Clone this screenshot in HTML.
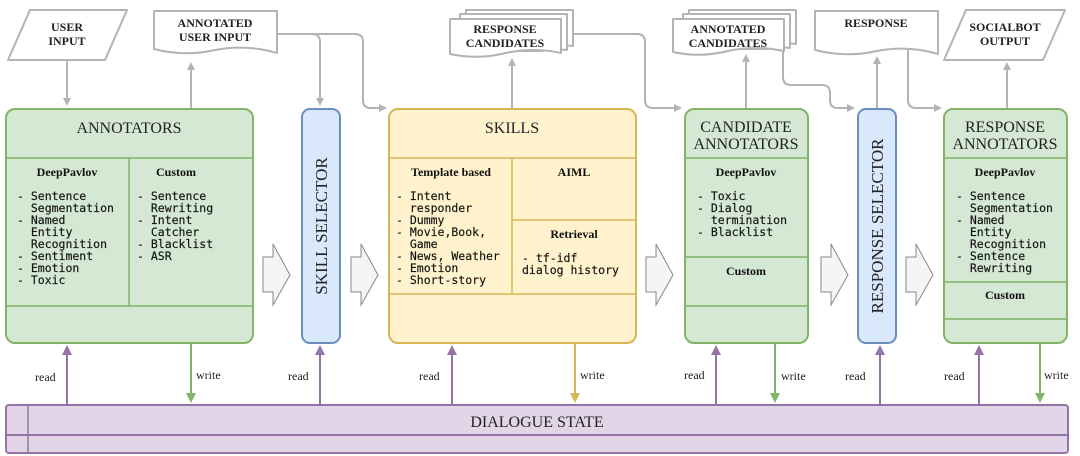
<!DOCTYPE html>
<html><head><meta charset="utf-8"><style>
html,body{margin:0;padding:0;background:#fff;width:1080px;height:456px;overflow:hidden}
svg{display:block}
.t{font-family:"Liberation Serif",serif;fill:#222}
.m{font-family:"DejaVu Sans Mono","Liberation Mono",monospace;font-size:11.5px;fill:#111;stroke:#111;stroke-width:0.15}
.h{font-family:"Liberation Serif",serif;font-weight:bold;font-size:12px;fill:#111}
.g{fill:none;stroke:#b3b3b3;stroke-width:2}
</style></head><body>
<svg width="1080" height="456" viewBox="0 0 1080 456" xmlns="http://www.w3.org/2000/svg">
<defs>
<marker id="ag" markerWidth="8" markerHeight="8" refX="6" refY="4" orient="auto" markerUnits="userSpaceOnUse"><path d="M0,0 L8,4 L0,8 Z" fill="#b3b3b3"/></marker>
<marker id="ap" markerWidth="10" markerHeight="10" refX="8" refY="5" orient="auto" markerUnits="userSpaceOnUse"><path d="M0,0 L10,5 L0,10 Z" fill="#9673a6"/></marker>
<marker id="agr" markerWidth="10" markerHeight="10" refX="8" refY="5" orient="auto" markerUnits="userSpaceOnUse"><path d="M0,0 L10,5 L0,10 Z" fill="#82b366"/></marker>
<marker id="ay" markerWidth="10" markerHeight="10" refX="8" refY="5" orient="auto" markerUnits="userSpaceOnUse"><path d="M0,0 L10,5 L0,10 Z" fill="#d6b656"/></marker>
</defs>

<path d="M30,10 L127,10 L105,60 L8,60 Z" fill="#fff" stroke="#b3b3b3" stroke-width="2" stroke-linejoin="round"/>
<text class="t" x="67" y="31" font-size="12" text-anchor="middle" font-weight="bold" fill="#555">USER</text>
<text class="t" x="67" y="45" font-size="12" text-anchor="middle" font-weight="bold" fill="#555">INPUT</text>

<path d="M154,11 L277,11 L277,53 Q246,44 215,50 Q184,57 154,49 Z" fill="#fff" stroke="#b3b3b3" stroke-width="2" stroke-linejoin="round"/>
<text class="t" x="215" y="27" font-size="12" text-anchor="middle" font-weight="bold" fill="#555">ANNOTATED</text>
<text class="t" x="215" y="41" font-size="12" text-anchor="middle" font-weight="bold" fill="#555">USER INPUT</text>

<g fill="#fff" stroke="#b3b3b3" stroke-width="2" stroke-linejoin="round">
<path d="M466,10 L573,10 L573,46 Q560,44 548,47 L466,47 Z"/>
<path d="M460,14 L567,14 L567,50 Q554,48 542,51 L460,51 Z"/>
<path d="M450,19 L561,19 L561,53 Q533,47 506,53 Q478,60 450,54 Z"/>
</g>
<text class="t" x="505" y="33" font-size="12" text-anchor="middle" font-weight="bold" fill="#555">RESPONSE</text>
<text class="t" x="505" y="47" font-size="12" text-anchor="middle" font-weight="bold" fill="#555">CANDIDATES</text>

<g fill="#fff" stroke="#b3b3b3" stroke-width="2" stroke-linejoin="round">
<path d="M689,10 L796,10 L796,44 Q784,42 772,45 L689,45 Z"/>
<path d="M683,14 L790,14 L790,48 Q778,46 766,49 L683,49 Z"/>
<path d="M673,19 L784,19 L784,51 Q756,45 728,51 Q700,58 673,52 Z"/>
</g>
<text class="t" x="728" y="33" font-size="12" text-anchor="middle" font-weight="bold" fill="#555">ANNOTATED</text>
<text class="t" x="728" y="47" font-size="12" text-anchor="middle" font-weight="bold" fill="#555">CANDIDATES</text>

<path d="M815,11 L938,11 L938,54 Q908,45 877,51 Q846,58 815,50 Z" fill="#fff" stroke="#b3b3b3" stroke-width="2" stroke-linejoin="round"/>
<text class="t" x="876" y="27" font-size="12" text-anchor="middle" font-weight="bold" fill="#555">RESPONSE</text>

<path d="M966,10 L1065,10 L1043,60 L944,60 Z" fill="#fff" stroke="#b3b3b3" stroke-width="2" stroke-linejoin="round"/>
<text class="t" x="1005" y="31" font-size="12" text-anchor="middle" font-weight="bold" fill="#555">SOCIALBOT</text>
<text class="t" x="1005" y="45" font-size="12" text-anchor="middle" font-weight="bold" fill="#555">OUTPUT</text>

<path class="g" d="M67,60 L67,104" marker-end="url(#ag)"/>
<path class="g" d="M191,108 L191,64" marker-end="url(#ag)"/>
<path class="g" d="M277,34 L312,34 Q320,34 320,42 L320,104" marker-end="url(#ag)"/>
<path class="g" d="M312,34 L355,34 Q363,34 363,42 L363,100 Q363,108 371,108 L385,108" marker-end="url(#ag)"/>
<path class="g" d="M512,108 L512,60" marker-end="url(#ag)"/>
<path class="g" d="M574,34 L637,34 Q645,34 645,42 L645,100 Q645,108 653,108 L680,108" marker-end="url(#ag)"/>
<path class="g" d="M746,108 L746,56" marker-end="url(#ag)"/>
<path class="g" d="M783,51 L783,77 Q783,85 791,85 L822,85 Q830,85 830,93 L830,100 Q830,108 838,108 L853,108" marker-end="url(#ag)"/>
<path class="g" d="M877,108 L877,58" marker-end="url(#ag)"/>
<path class="g" d="M908,50 L908,100 Q908,108 916,108 L940,108" marker-end="url(#ag)"/>
<path class="g" d="M1007,108 L1007,64" marker-end="url(#ag)"/>

<rect x="6" y="109" width="247" height="234" rx="9" fill="#d5e8d4" stroke="#82b366" stroke-width="2"/>
<line x1="6" y1="158" x2="253" y2="158" stroke="#82b366" stroke-width="1.5"/>
<line x1="129" y1="158" x2="129" y2="306" stroke="#82b366" stroke-width="1.5"/>
<line x1="6" y1="306" x2="253" y2="306" stroke="#82b366" stroke-width="1.5"/>
<text class="t" x="129" y="133" font-size="16" text-anchor="middle">ANNOTATORS</text>
<text class="h" x="67" y="176" text-anchor="middle">DeepPavlov</text>
<text class="h" x="176" y="176" text-anchor="middle">Custom</text>
<text class="m" xml:space="preserve"><tspan x="17" y="200">- Sentence</tspan><tspan x="17" dy="12">  Segmentation</tspan><tspan x="17" dy="12">- Named</tspan><tspan x="17" dy="12">  Entity</tspan><tspan x="17" dy="12">  Recognition</tspan><tspan x="17" dy="12">- Sentiment</tspan><tspan x="17" dy="12">- Emotion</tspan><tspan x="17" dy="12">- Toxic</tspan></text>
<text class="m" xml:space="preserve"><tspan x="137" y="200">- Sentence</tspan><tspan x="137" dy="12">  Rewriting</tspan><tspan x="137" dy="12">- Intent</tspan><tspan x="137" dy="12">  Catcher</tspan><tspan x="137" dy="12">- Blacklist</tspan><tspan x="137" dy="12">- ASR</tspan></text>

<g fill="#f5f5f5" stroke="#888" stroke-width="1">
<path d="M263,257 L273,257 L273,244 L290,275 L273,305 L273,292 L263,292 Z"/>
<path d="M351,257 L361,257 L361,244 L378,275 L361,305 L361,292 L351,292 Z"/>
<path d="M646,257 L656,257 L656,244 L673,275 L656,305 L656,292 L646,292 Z"/>
<path d="M821,257 L831,257 L831,244 L848,275 L831,305 L831,292 L821,292 Z"/>
<path d="M906,257 L916,257 L916,244 L933,275 L916,305 L916,292 L906,292 Z"/>
</g>

<rect x="302" y="109" width="38" height="234" rx="8" fill="#dae8fc" stroke="#6c8ebf" stroke-width="2"/>
<text class="t" transform="translate(327,226) rotate(-90)" font-size="17" text-anchor="middle">SKILL SELECTOR</text>

<rect x="389" y="109" width="247" height="234" rx="9" fill="#fff2cc" stroke="#d6b656" stroke-width="2"/>
<line x1="389" y1="158" x2="636" y2="158" stroke="#d6b656" stroke-width="1.5"/>
<line x1="512" y1="158" x2="512" y2="294" stroke="#d6b656" stroke-width="1.5"/>
<line x1="512" y1="220" x2="636" y2="220" stroke="#d6b656" stroke-width="1.5"/>
<line x1="389" y1="294" x2="636" y2="294" stroke="#d6b656" stroke-width="1.5"/>
<text class="t" x="512" y="133" font-size="16" text-anchor="middle">SKILLS</text>
<text class="h" x="451" y="176" text-anchor="middle">Template based</text>
<text class="h" x="574" y="176" text-anchor="middle">AIML</text>
<text class="h" x="574" y="238" text-anchor="middle">Retrieval</text>
<text class="m" xml:space="preserve"><tspan x="396" y="200">- Intent</tspan><tspan x="396" dy="12">  responder</tspan><tspan x="396" dy="12">- Dummy</tspan><tspan x="396" dy="12">- Movie,Book,</tspan><tspan x="396" dy="12">  Game</tspan><tspan x="396" dy="12">- News, Weather</tspan><tspan x="396" dy="12">- Emotion</tspan><tspan x="396" dy="12">- Short-story</tspan></text>
<text class="m" xml:space="preserve"><tspan x="522" y="262">- tf-idf</tspan><tspan x="522" dy="12">dialog history</tspan></text>

<rect x="685" y="109" width="123" height="234" rx="9" fill="#d5e8d4" stroke="#82b366" stroke-width="2"/>
<line x1="685" y1="158" x2="808" y2="158" stroke="#82b366" stroke-width="1.5"/>
<line x1="685" y1="257" x2="808" y2="257" stroke="#82b366" stroke-width="1.5"/>
<line x1="685" y1="306" x2="808" y2="306" stroke="#82b366" stroke-width="1.5"/>
<text class="t" x="746" y="132" font-size="16" text-anchor="middle">CANDIDATE</text>
<text class="t" x="746" y="149" font-size="16" text-anchor="middle">ANNOTATORS</text>
<text class="h" x="746" y="176" text-anchor="middle">DeepPavlov</text>
<text class="h" x="746" y="275" text-anchor="middle">Custom</text>
<text class="m" xml:space="preserve"><tspan x="697" y="200">- Toxic</tspan><tspan x="697" dy="12">- Dialog</tspan><tspan x="697" dy="12">  termination</tspan><tspan x="697" dy="12">- Blacklist</tspan></text>

<rect x="858" y="109" width="38" height="234" rx="8" fill="#dae8fc" stroke="#6c8ebf" stroke-width="2"/>
<text class="t" transform="translate(883,226) rotate(-90)" font-size="17" text-anchor="middle">RESPONSE SELECTOR</text>

<rect x="944" y="109" width="123" height="234" rx="9" fill="#d5e8d4" stroke="#82b366" stroke-width="2"/>
<line x1="944" y1="158" x2="1067" y2="158" stroke="#82b366" stroke-width="1.5"/>
<line x1="944" y1="282" x2="1067" y2="282" stroke="#82b366" stroke-width="1.5"/>
<line x1="944" y1="319" x2="1067" y2="319" stroke="#82b366" stroke-width="1.5"/>
<text class="t" x="1005" y="132" font-size="16" text-anchor="middle">RESPONSE</text>
<text class="t" x="1005" y="149" font-size="16" text-anchor="middle">ANNOTATORS</text>
<text class="h" x="1005" y="176" text-anchor="middle">DeepPavlov</text>
<text class="h" x="1005" y="299" text-anchor="middle">Custom</text>
<text class="m" xml:space="preserve"><tspan x="956" y="200">- Sentence</tspan><tspan x="956" dy="12">  Segmentation</tspan><tspan x="956" dy="12">- Named</tspan><tspan x="956" dy="12">  Entity</tspan><tspan x="956" dy="12">  Recognition</tspan><tspan x="956" dy="12">- Sentence</tspan><tspan x="956" dy="12">  Rewriting</tspan></text>

<rect x="6" y="405" width="1062" height="48" rx="3" fill="#e1d5e7" stroke="#9673a6" stroke-width="2"/>
<line x1="28" y1="405" x2="28" y2="453" stroke="#9673a6" stroke-width="1.5"/>
<line x1="6" y1="435" x2="1068" y2="435" stroke="#9673a6" stroke-width="2"/>
<text class="t" x="537" y="427" font-size="16" text-anchor="middle">DIALOGUE STATE</text>

<g stroke-width="2" fill="none">
<path d="M67,405 L67,347" stroke="#9673a6" marker-end="url(#ap)"/>
<path d="M191,343 L191,401" stroke="#82b366" marker-end="url(#agr)"/>
<path d="M320,405 L320,347" stroke="#9673a6" marker-end="url(#ap)"/>
<path d="M452,405 L452,347" stroke="#9673a6" marker-end="url(#ap)"/>
<path d="M575,343 L575,401" stroke="#d6b656" marker-end="url(#ay)"/>
<path d="M716,405 L716,347" stroke="#9673a6" marker-end="url(#ap)"/>
<path d="M775,343 L775,401" stroke="#82b366" marker-end="url(#agr)"/>
<path d="M880,405 L880,347" stroke="#9673a6" marker-end="url(#ap)"/>
<path d="M979,405 L979,347" stroke="#9673a6" marker-end="url(#ap)"/>
<path d="M1040,343 L1040,401" stroke="#82b366" marker-end="url(#agr)"/>
</g>
<g class="t" font-size="12" fill="#333">
<text x="35" y="381">read</text>
<text x="196" y="379">write</text>
<text x="288" y="380">read</text>
<text x="419" y="380">read</text>
<text x="580" y="379">write</text>
<text x="684" y="379">read</text>
<text x="781" y="380">write</text>
<text x="845" y="380">read</text>
<text x="944" y="380">read</text>
<text x="1044" y="379">write</text>
</g>
</svg>
</body></html>
